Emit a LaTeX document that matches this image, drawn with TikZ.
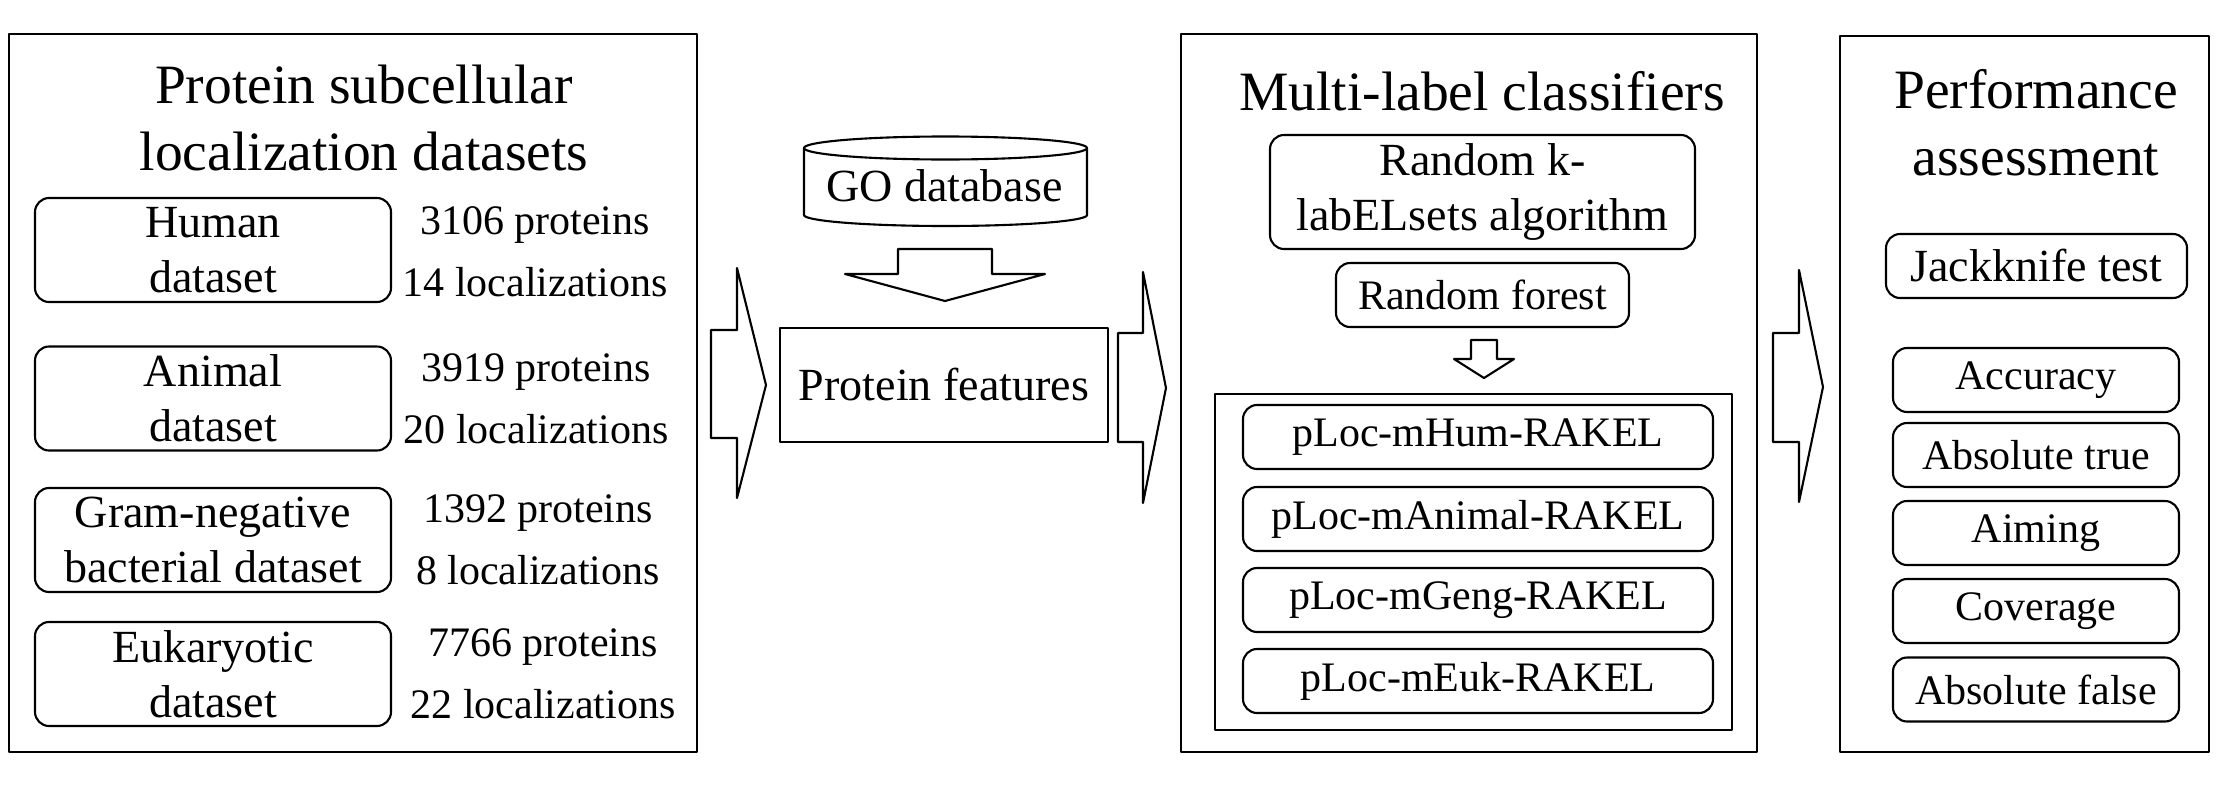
\documentclass[tikz,border=0pt]{standalone}
\usepackage{fontspec}
\setmainfont{Liberation Serif}
\newcommand\titlefont{\fontsize{15.8}{19.06}\selectfont}
\newcommand\bigfont{\fontsize{13.1}{15.65}\selectfont}
\newcommand\smallfont{\fontsize{11.95}{17.6}\selectfont}
\begin{document}
\begin{tikzpicture}[x=0.1mm,y=-0.1mm,line join=round,
	panel/.style={draw,line width=0.7pt,inner sep=0pt},
	rbox/.style={draw,line width=0.6pt,rounded corners=4pt,inner sep=0pt,align=center,font=\bigfont,minimum height=6.4mm},
	txt/.style={inner sep=0pt,align=center},
	blockarrow/.style={draw,line width=0.6pt}]
	\useasboundingbox (0,0) rectangle (2226,793);
	\node[panel,minimum width=68.8mm,minimum height=71.8mm] (datasets) at (353,393) {};
	\node[txt,font=\titlefont] (dtitle) at (364,118) {Protein subcellular\\localization datasets};
	\node[rbox,minimum width=35.6mm,minimum height=10.4mm] (human) at (213,250) {Human\\dataset};
	\node[rbox,minimum width=35.6mm,minimum height=10.4mm] (animal) at (213,398.5) {Animal\\dataset};
	\node[rbox,minimum width=35.6mm,minimum height=10.4mm] (gram) at (213,540) {Gram-negative\\bacterial dataset};
	\node[rbox,minimum width=35.6mm,minimum height=10.4mm] (euk) at (213,674) {Eukaryotic\\dataset};
	\node[txt,font=\smallfont] (humann) at (535,252) {3106 proteins\\14 localizations};
	\node[txt,font=\smallfont] (animaln) at (536,398.5) {3919 proteins\\20 localizations};
	\node[txt,font=\smallfont] (gramn) at (538,540) {1392 proteins\\8 localizations};
	\node[txt,font=\smallfont] (eukn) at (543,674) {7766 proteins\\22 localizations};
	\draw[blockarrow] (711,330) -- (737,330) -- (737,268) -- (766,385) -- (737,498) -- (737,438) -- (711,438) -- cycle;
	\draw[line width=0.6pt] (804,148) -- (804,215) plot[domain=180:360,samples=60] ({945.5+141.5*cos(\x)},{215-11*sin(\x)}) -- (1087,148);
	\draw[line width=0.6pt] (945.5,148) ellipse [x radius=141.5,y radius=11.5];
	\node[txt,font=\bigfont] (go) at (944.5,186) {GO database};
	\draw[blockarrow] (898,249) -- (992,249) -- (992,274) -- (1045,274) -- (945,301) -- (845,274) -- (898,274) -- cycle;
	\node[panel,minimum width=32.8mm,minimum height=11.4mm,font=\bigfont] (features) at (944,385) {Protein features};
	\draw[blockarrow] (1118,333) -- (1143,333) -- (1143,272) -- (1166,388) -- (1143,503) -- (1143,442) -- (1118,442) -- cycle;
	\node[panel,minimum width=57.6mm,minimum height=71.8mm] (classifiers) at (1469,393) {};
	\node[txt,font=\titlefont] (ctitle) at (1482,91) {Multi-label classifiers};
	\node[rbox,minimum width=42.5mm,minimum height=11.4mm] (rakel) at (1482.5,192) {Random k-\\labELsets algorithm};
	\node[rbox,minimum width=29.3mm,font=\smallfont] (forest) at (1482.5,295) {Random forest};
	\draw[blockarrow] (1471,340) -- (1497,340) -- (1497,359) -- (1514,359) -- (1484,378) -- (1454,359) -- (1471,359) -- cycle;
	\node[panel,minimum width=51.7mm,minimum height=33.6mm] (models) at (1473.5,562) {};
	\node[rbox,minimum width=47mm,font=\smallfont] (mhum) at (1478,437) {pLoc-mHum-RAKEL};
	\node[rbox,minimum width=47mm,font=\smallfont] (manimal) at (1478,519) {pLoc-mAnimal-RAKEL};
	\node[rbox,minimum width=47mm,font=\smallfont] (mgeng) at (1478,600) {pLoc-mGeng-RAKEL};
	\node[rbox,minimum width=47mm,font=\smallfont] (meuk) at (1478,681) {pLoc-mEuk-RAKEL};
	\draw[blockarrow] (1773,333) -- (1799,333) -- (1799,270) -- (1823,387) -- (1799,502) -- (1799,442) -- (1773,442) -- cycle;
	\node[panel,minimum width=36.9mm,minimum height=71.6mm] (assessment) at (2024.5,394) {};
	\node[txt,font=\titlefont] (atitle) at (2036,122.5) {Performance\\assessment};
	\node[rbox,minimum width=30.1mm] (jack) at (2036.5,266) {Jackknife test};
	\node[rbox,minimum width=28.6mm,font=\smallfont] (acc) at (2036,380) {Accuracy};
	\node[rbox,minimum width=28.6mm,font=\smallfont] (abstrue) at (2036,455) {Absolute true};
	\node[rbox,minimum width=28.6mm,font=\smallfont] (aiming) at (2036,533) {Aiming};
	\node[rbox,minimum width=28.6mm,font=\smallfont] (coverage) at (2036,611) {Coverage};
	\node[rbox,minimum width=28.6mm,font=\smallfont] (absfalse) at (2036,689.5) {Absolute false};
\end{tikzpicture}
\end{document}
